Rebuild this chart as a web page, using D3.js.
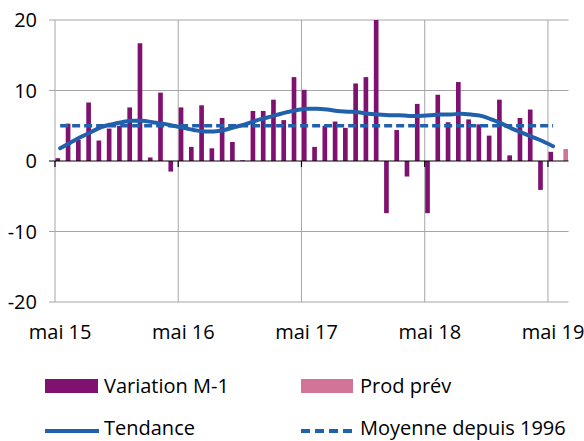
<!DOCTYPE html>
<html>
<head>
<meta charset="utf-8">
<script src="https://cdn.jsdelivr.net/npm/d3@7"></script>
<style>
  body { margin: 0; background: #fff; }
  text { font-family: "Open Sans", sans-serif; fill: #000; }
</style>
</head>
<body>
<script>

// monthly categories, mai 15 -> juin 19
var categories = d3.timeMonth.range(new Date(2015, 4, 1), new Date(2019, 6, 1));
var tickLabels = ["mai 15", "mai 16", "mai 17", "mai 18", "mai 19"];
var tickIndex = [0, 12, 24, 36, 48];

// Variation M-1 (mai 15 -> mai 19)
var variation = [0.4, 5.3, 3.0, 8.3, 2.9, 4.6, 5.0, 7.6, 16.7, 0.5, 9.7, -1.5,
                 7.6, 2.0, 7.9, 1.8, 6.1, 2.7, 0.1, 7.1, 7.1, 8.7, 5.8, 11.9,
                 10.1, 2.0, 5.0, 5.6, 4.7, 11.0, 11.9, 20.0, -7.4, 4.4, -2.2, 8.1,
                 -7.4, 9.4, 5.5, 11.2, 5.9, 5.2, 3.6, 8.7, 0.8, 6.1, 7.3, -4.1,
                 1.3];
// Prod prév (juin 19)
var prodPrev = [{ index: 49, value: 1.7 }];
// Tendance
var tendance = [1.8, 2.6, 3.4, 4.1, 4.8, 5.2, 5.5, 5.7, 5.7, 5.5, 5.3, 5.0,
                4.7, 4.4, 4.2, 4.2, 4.4, 4.8, 5.2, 5.7, 6.1, 6.5, 6.9, 7.2,
                7.4, 7.4, 7.3, 7.1, 7.0, 6.9, 6.7, 6.6, 6.5, 6.5, 6.4, 6.4,
                6.5, 6.6, 6.6, 6.7, 6.6, 6.4, 5.9, 5.3, 4.6, 4.0, 3.4, 2.8,
                2.1];
var moyenne = 5.0;
var yTicks = [-20, -10, 0, 10, 20];

var width = 584;
var height = 441;
const margin = {left: 55, top: 20, right: 15.5, bottom: 139};

var purple = "#7f1270";
var pink = "#d27497";
var blue = "#2160ab";
var grid = "#a6a6a6";
var fontSize = 20;

var svg = d3.select("body").append("svg")
      .attr("width", width)
      .attr("height", height);

var x = d3.scaleBand()
    .domain(d3.range(categories.length))
    .range([margin.left, width - margin.right])
    .paddingInner(0).paddingOuter(0);

var xs = d3.scaleBand()
    .domain(["var", "prev"])
    .range([0, x.bandwidth()])
    .paddingOuter(0.1);

var y = d3.scaleLinear()
    .domain([-20, 20])
    .range([height - margin.bottom, margin.top]);

var x0 = margin.left, x1 = width - margin.right;

svg.append("clipPath").attr("id", "plot")
  .append("rect")
    .attr("x", x0).attr("y", y(20))
    .attr("width", x1 - x0).attr("height", y(-20) - y(20));

// **** gridlines *****************
svg.append("g").selectAll("line")
  .data(yTicks.filter(function(d) { return d !== 0; }))
  .join("line")
    .attr("x1", x0 - 6).attr("x2", x1)
    .attr("y1", function(d) { return y(d); })
    .attr("y2", function(d) { return y(d); })
    .attr("stroke", grid).attr("stroke-width", 1);

svg.append("g").selectAll("line")
  .data(tickIndex)
  .join("line")
    .attr("x1", function(d) { return x(d); })
    .attr("x2", function(d) { return x(d); })
    .attr("y1", y(20)).attr("y2", y(-20))
    .attr("stroke", grid).attr("stroke-width", 1);

// **** bars *****************
var bars = svg.append("g").attr("clip-path", "url(#plot)");

bars.selectAll(".bar")
  .data(variation)
  .join("rect")
    .attr("class", "bar")
    .attr("x", function(d, i) { return x(i) + xs("var"); })
    .attr("width", xs.bandwidth())
    .attr("y", function(d) { return y(Math.max(0, d)); })
    .attr("height", function(d) { return Math.abs(y(d) - y(0)); })
    .attr("fill", purple);

bars.selectAll(".prev")
  .data(prodPrev)
  .join("rect")
    .attr("class", "prev")
    .attr("x", function(d) { return x(d.index) + xs("prev"); })
    .attr("width", xs.bandwidth())
    .attr("y", function(d) { return y(Math.max(0, d.value)); })
    .attr("height", function(d) { return Math.abs(y(d.value) - y(0)); })
    .attr("fill", pink);

// **** zero axis *****************
svg.append("line")
    .attr("x1", x0 - 6).attr("x2", x1)
    .attr("y1", y(0)).attr("y2", y(0))
    .attr("stroke", "#000").attr("stroke-width", 1.2);

svg.append("g").selectAll("line")
  .data(tickIndex)
  .join("line")
    .attr("x1", function(d) { return x(d); })
    .attr("x2", function(d) { return x(d); })
    .attr("y1", y(0)).attr("y2", y(0) + 6)
    .attr("stroke", "#000").attr("stroke-width", 1.2);

// **** lines *****************
var cx = function(i) { return x(i) + x.bandwidth() / 2; };

svg.append("path")
    .datum(tendance.map(function(d) { return moyenne; }))
    .attr("fill", "none")
    .attr("stroke", blue)
    .attr("stroke-width", 3.5)
    .attr("stroke-dasharray", "8,4")
    .attr("d", d3.line()
        .x(function(d, i) { return cx(i); })
        .y(function(d) { return y(d); }));

svg.append("path")
    .datum(tendance)
    .attr("fill", "none")
    .attr("stroke", blue)
    .attr("stroke-width", 4)
    .attr("stroke-linecap", "round")
    .attr("d", d3.line()
        .curve(d3.curveMonotoneX)
        .x(function(d, i) { return cx(i); })
        .y(function(d) { return y(d); }));

// **** axis labels *****************
svg.append("g").selectAll("text")
  .data(yTicks)
  .join("text")
    .attr("x", 37)
    .attr("y", function(d) { return y(d); })
    .attr("dy", "0.35em")
    .attr("text-anchor", "end")
    .attr("font-size", fontSize)
    .text(function(d) { return d; });

svg.append("g").selectAll("text")
  .data(tickIndex)
  .join("text")
    .attr("x", function(d) { return cx(d); })
    .attr("y", 332)
    .attr("dy", "0.35em")
    .attr("text-anchor", "middle")
    .attr("font-size", fontSize)
    .text(function(d, i) { return tickLabels[i]; });

// **** legend *****************
var legend = svg.append("g");

legend.append("rect")
    .attr("x", 45).attr("y", 379).attr("width", 53).attr("height", 14)
    .attr("fill", purple);
legend.append("rect")
    .attr("x", 301).attr("y", 379).attr("width", 52).attr("height", 14)
    .attr("fill", pink);
legend.append("line")
    .attr("x1", 45).attr("x2", 99).attr("y1", 431).attr("y2", 431)
    .attr("stroke", blue).attr("stroke-width", 4);
legend.append("line")
    .attr("x1", 301).attr("x2", 352).attr("y1", 431).attr("y2", 431)
    .attr("stroke", blue).attr("stroke-width", 4)
    .attr("stroke-dasharray", "9,5");

var legendText = [
  {x: 104, y: 386, t: "Variation M-1"},
  {x: 360, y: 386, t: "Prod prév"},
  {x: 104, y: 428, t: "Tendance"},
  {x: 360, y: 428, t: "Moyenne depuis 1996"}
];
legend.selectAll("text")
  .data(legendText)
  .join("text")
    .attr("x", function(d) { return d.x; })
    .attr("y", function(d) { return d.y; })
    .attr("dy", "0.35em")
    .attr("font-size", fontSize)
    .text(function(d) { return d.t; });

</script>
</body>
</html>
